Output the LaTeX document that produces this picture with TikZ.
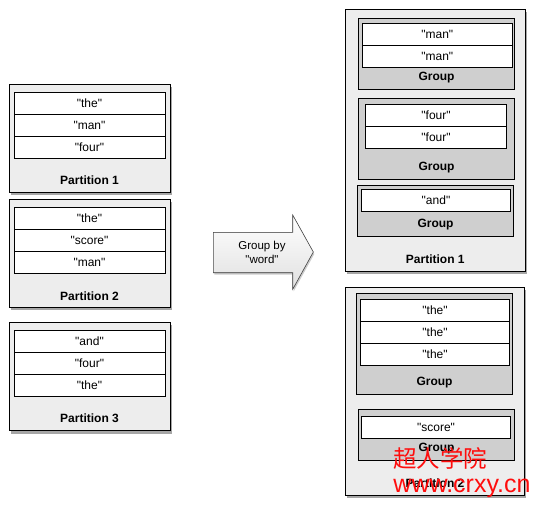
\documentclass[tikz,border=0pt]{standalone}
\usepackage{fontspec}
\setmainfont{Liberation Sans}[Ligatures=TeXOff]
\newfontfamily\cjk{Noto Sans CJK SC}
\usetikzlibrary{shadows}
\begin{document}
\begin{tikzpicture}[x=1pt,y=-1pt,
  every node/.style={inner sep=0pt, outer sep=0pt, line width=0.8pt},
  partbox/.style={draw=black, fill=black!7, anchor=north west,
     drop shadow={shadow xshift=1.5pt, shadow yshift=-3pt, opacity=0.35, fill=black}},
  grpbox/.style={draw=black, fill=black!19, anchor=north west},
  rowbox/.style={draw=black, fill=white, anchor=north west, minimum height=22pt, font=\fontsize{12}{14}\selectfont},
  lbl/.style={font=\fontsize{12}{14}\selectfont\bfseries},
  wm/.style={text=red!95!white, font=\fontsize{25}{27}\selectfont}
]
\useasboundingbox (0,0) rectangle (535,506);

% ---------- left partitions ----------
\node[partbox, minimum width=161pt, minimum height=108pt] (lp1) at (9,84) {};
\node[rowbox, minimum width=151pt] (lp1a) at (14,92.3) {"the"};
\node[rowbox, minimum width=151pt] (lp1b) at (14,114.3) {"man"};
\node[rowbox, minimum width=151pt] (lp1c) at (14,136.3) {"four"};
\node[lbl] (lp1l) at (89.5,180.5) {Partition 1};

\node[partbox, minimum width=161pt, minimum height=108pt] (lp2) at (9,199.3) {};
\node[rowbox, minimum width=151pt] (lp2a) at (14,207.3) {"the"};
\node[rowbox, minimum width=151pt] (lp2b) at (14,229.3) {"score"};
\node[rowbox, minimum width=151pt] (lp2c) at (14,251.3) {"man"};
\node[lbl] (lp2l) at (89.5,296) {Partition 2};

\node[partbox, minimum width=161pt, minimum height=108.4pt] (lp3) at (9,322.3) {};
\node[rowbox, minimum width=151pt] (lp3a) at (14,330.3) {"and"};
\node[rowbox, minimum width=151pt] (lp3b) at (14,352.3) {"four"};
\node[rowbox, minimum width=151pt] (lp3c) at (14,374.3) {"the"};
\node[lbl] (lp3l) at (89.5,418) {Partition 3};

% ---------- arrow ----------
\filldraw[draw=black!70, line width=0.6pt, top color=white, bottom color=black!12,
  drop shadow={shadow xshift=1pt, shadow yshift=-2pt, opacity=0.2, fill=black}]
  (213.3,232.3) -- (292.7,232.3) -- (292.7,215) -- (313.3,252) -- (292.7,289.3)
  -- (292.7,272.7) -- (213.3,272.7) -- cycle;
\node[align=center, font=\fontsize{11.5}{14}\selectfont] (arrowtext) at (262,252.5) {Group by\\"word"};

% ---------- right partition 1 ----------
\node[partbox, minimum width=180.7pt, minimum height=261.7pt] (rp1) at (345,9.3) {};
\node[grpbox, minimum width=156.4pt, minimum height=71pt] (g1) at (358.3,18.3) {};
\node[rowbox, minimum width=150pt] (g1a) at (362.3,23.3) {"man"};
\node[rowbox, minimum width=150pt] (g1b) at (362.3,45.3) {"man"};
\node[lbl] (g1l) at (436.5,78) {Group};

\node[grpbox, minimum width=156.4pt, minimum height=81pt] (g2) at (358.3,98.3) {};
\node[rowbox, minimum width=141.4pt] (g2a) at (365.3,104.3) {"four"};
\node[rowbox, minimum width=141.4pt] (g2b) at (365.3,126.3) {"four"};
\node[lbl] (g2l) at (436.5,167.5) {Group};

\node[grpbox, minimum width=156.4pt, minimum height=51pt] (g3) at (357.3,185.3) {};
\node[rowbox, minimum width=149.4pt] (g3a) at (361.3,189.3) {"and"};
\node[lbl] (g3l) at (435.5,225) {Group};

\node[lbl] (rp1l) at (435.3,259.5) {Partition 1};

% ---------- right partition 2 ----------
\node[partbox, minimum width=179.7pt, minimum height=207.7pt] (rp2) at (345,287.3) {};
\node[grpbox, minimum width=156.4pt, minimum height=101pt] (g4) at (356.3,293.3) {};
\node[rowbox, minimum width=149.4pt] (g4a) at (360.3,299.3) {"the"};
\node[rowbox, minimum width=149.4pt] (g4b) at (360.3,321.3) {"the"};
\node[rowbox, minimum width=149.4pt] (g4c) at (360.3,343.3) {"the"};
\node[lbl] (g4l) at (434.5,382.5) {Group};

\node[grpbox, minimum width=156.4pt, minimum height=51pt] (g5) at (358.3,409.3) {};
\node[rowbox, minimum width=149.4pt] (g5a) at (361.3,416.3) {"score"};
\node[lbl] (g5l) at (436.5,448.5) {Group};

\node[lbl] (rp2l) at (435,483) {Partition 2};

% ---------- watermark ----------
\node[wm, font=\cjk\fontsize{23.5}{25}\selectfont] (wm1) at (440,458) {超人学院};
\node[wm] (wm2) at (462,488) {www.crxy.cn};
\end{tikzpicture}
\end{document}
